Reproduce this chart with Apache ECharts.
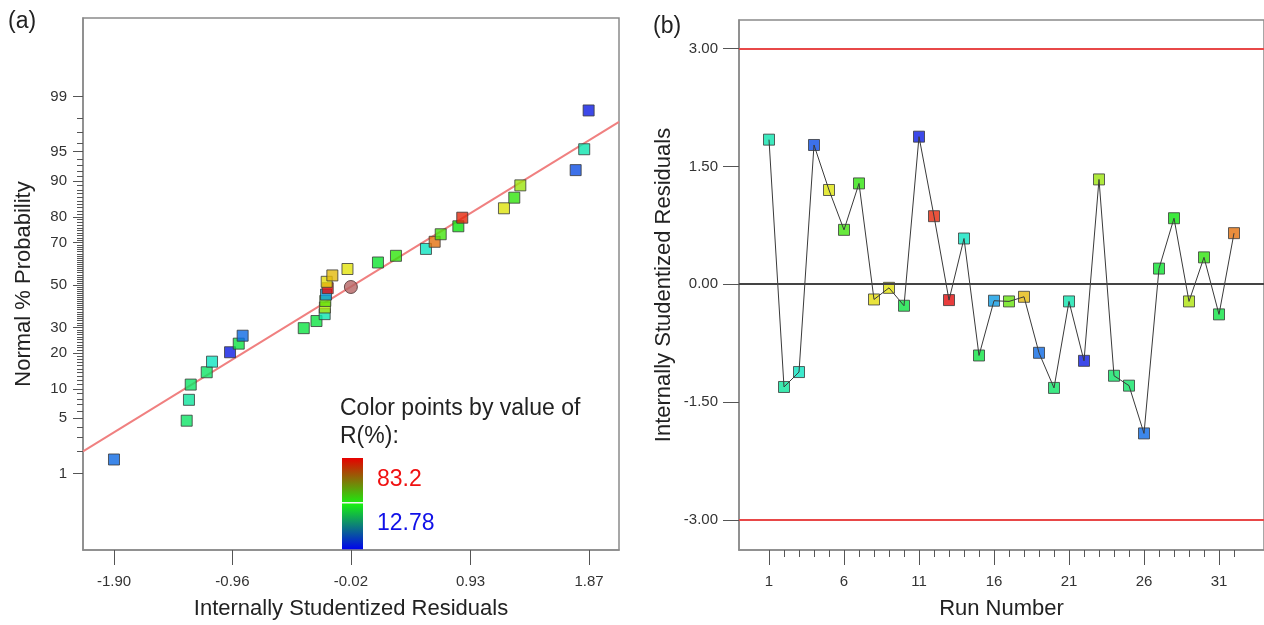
<!DOCTYPE html>
<html><head><meta charset="utf-8">
<script src="https://cdn.jsdelivr.net/npm/echarts@6/dist/echarts.min.js"></script>
<style>html,body{margin:0;padding:0;background:#fff}#c{width:1264px;height:625px}</style>
</head><body><div id="c"></div>
<script>
// ---------- data ----------
const runNumbers = [1,2,3,4,5,6,7,8,9,10,11,12,13,14,15,16,17,18,19,20,21,22,23,24,25,26,27,28,29,30,31,32];
const runResiduals = [1.84,-1.308,-1.118,1.772,1.199,0.692,1.283,-0.194,-0.046,-0.274,1.878,0.866,-0.202,0.582,-0.907,-0.21,-0.219,-0.16,-0.873,-1.32,-0.219,-0.975,1.334,-1.165,-1.291,-1.899,0.199,0.84,-0.219,0.342,-0.384,0.65];
const runR = [34.8,36.3,33.3,18.1,65.0,52.4,50.9,66.2,65.6,43.6,14.0,80.9,83.2,33.3,43.6,24.5,55.3,69.1,20.4,40.7,34.8,14.0,59.7,40.7,40.7,20.4,45.1,48.0,61.2,50.9,43.6,75.0];

const probResiduals = [-1.90,-1.323,-1.305,-1.291,-1.164,-1.122,-0.979,-0.910,-0.879,-0.394,-0.293,-0.228,-0.226,-0.223,-0.217,-0.204,-0.212,-0.167,-0.047,0.195,0.338,0.576,0.645,0.693,0.833,0.864,1.195,1.277,1.325,1.764,1.832,1.867];
const probPercent = [1.56,4.69,7.81,10.94,14.06,17.19,20.31,23.44,26.56,29.69,32.81,35.94,39.06,42.19,45.31,48.44,51.56,54.69,57.81,60.94,64.06,67.19,70.31,73.44,76.56,79.69,82.81,85.94,89.06,92.19,95.31,98.44];
const probR = [20.4,40.7,36.3,40.7,40.7,33.3,14.0,43.6,20.4,43.6,43.6,34.8,61.2,55.3,24.5,83.2,66.2,69.1,65.6,45.1,50.9,33.3,75.0,52.4,48.0,80.9,65.0,50.9,59.7,18.1,34.8,14.0];

const highlightResidual = [-0.02];
const highlightPercent = [49];
const fitLineResidual = [-2.146, 2.108];
const fitLinePercent = [2.0, 97.8];

const probTickPercents = [1,5,10,20,30,50,70,80,90,95,99];
const residTickLabels = [-1.90,-0.96,-0.02,0.93,1.87];
const runTickLabels = [1,6,11,16,21,26,31];
const residualTickLabels = [-3,-1.5,0,1.5,3];
const controlLimits = [-3, 3];
const rLegend = [12.78, 83.2];

// ---------- helpers ----------
function probit(pct){
  const p = pct/100;
  const a=[-3.969683028665376e+01,2.209460984245205e+02,-2.759285104469687e+02,1.383577518672690e+02,-3.066479806614716e+01,2.506628277459239e+00];
  const b=[-5.447609879822406e+01,1.615858368580409e+02,-1.556989798598866e+02,6.680131188771972e+01,-1.328068155288572e+01];
  const c=[-7.784894002430293e-03,-3.223964580411365e-01,-2.400758277161838e+00,-2.549732539343734e+00,4.374664141464968e+00,2.938163982698783e+00];
  const d=[7.784695709041462e-03,3.224671290700398e-01,2.445134137142996e+00,3.754408661907416e+00];
  const pl=0.02425, ph=1-pl; let q,r;
  if(p<pl){q=Math.sqrt(-2*Math.log(p));return (((((c[0]*q+c[1])*q+c[2])*q+c[3])*q+c[4])*q+c[5])/((((d[0]*q+d[1])*q+d[2])*q+d[3])*q+1);}
  if(p<=ph){q=p-0.5;r=q*q;return (((((a[0]*r+a[1])*r+a[2])*r+a[3])*r+a[4])*r+a[5])*q/(((((b[0]*r+b[1])*r+b[2])*r+b[3])*r+b[4])*r+1);}
  q=Math.sqrt(-2*Math.log(1-p));return -(((((c[0]*q+c[1])*q+c[2])*q+c[3])*q+c[4])*q+c[5])/((((d[0]*q+d[1])*q+d[2])*q+d[3])*q+1);
}
function rColor(R){
  const t=Math.max(0,Math.min(1,(R-rLegend[0])/(rLegend[1]-rLegend[0])));
  return 'hsl('+(240*(1-t)).toFixed(1)+',90%,47%)';
}
const minorPercents=[]; for(let i=1;i<=99;i++) minorPercents.push(i);
const majorZ = probTickPercents.map(probit);
const minorZ = minorPercents.map(probit);
const runMinor = runNumbers.slice();

const FONT='"Liberation Sans", Arial, sans-serif';
const axisGray='#8a8a8a';
const tickGray='#555';

const chart = echarts.init(document.getElementById('c'), null, {renderer:'canvas'});
const sqStyle = {borderColor:'#3a3a3a', borderWidth:1};

const option = {
  animation:false,
  backgroundColor:'#fff',
  textStyle:{fontFamily:FONT},
  grid:[
    {left:83, top:18, width:536, height:534, show:true, borderColor:axisGray, borderWidth:1.5, containLabel:false},
    {left:739, top:20, width:536, height:533, show:true, borderColor:axisGray, borderWidth:1.5, containLabel:false}
  ],
  xAxis:[
    {gridIndex:0, type:'value', min:-2.146, max:2.108, position:'bottom',
     axisLine:{show:true,onZero:false,lineStyle:{color:axisGray,width:1.5}},
     axisTick:{show:true,customValues:residTickLabels,length:15,lineStyle:{color:tickGray}},
     axisLabel:{customValues:residTickLabels,formatter:v=>v.toFixed(2),margin:24,fontSize:15,color:'#333',fontFamily:FONT},
     splitLine:{show:false},
     name:'Internally Studentized Residuals', nameLocation:'middle', nameGap:48,
     nameTextStyle:{fontSize:22,color:'#222',fontFamily:FONT}},
    {gridIndex:1, type:'value', min:-1, max:34, position:'bottom',
     axisLine:{show:true,onZero:false,lineStyle:{color:axisGray,width:1.5}},
     axisTick:{show:true,customValues:runTickLabels,length:15,lineStyle:{color:tickGray}},
     axisLabel:{customValues:runTickLabels,formatter:v=>String(v),margin:24,fontSize:15,color:'#333',fontFamily:FONT},
     splitLine:{show:false},
     name:'Run Number', nameLocation:'middle', nameGap:48,
     nameTextStyle:{fontSize:22,color:'#222',fontFamily:FONT}},
    {gridIndex:1, type:'value', min:-1, max:34, position:'bottom', offset:0,
     axisLine:{show:false,onZero:false},
     axisTick:{show:true,customValues:runMinor,length:7,lineStyle:{color:tickGray}},
     axisLabel:{show:false}, splitLine:{show:false}}
  ],
  yAxis:[
    {gridIndex:0, type:'value', min:-3.272, max:3.296, position:'left',
     axisLine:{show:true,onZero:false,lineStyle:{color:axisGray,width:1.5}},
     axisTick:{show:true,customValues:majorZ,length:10,lineStyle:{color:tickGray}},
     axisLabel:{customValues:majorZ,margin:16,fontSize:15,color:'#333',fontFamily:FONT,
       formatter:v=>{let best=0,bd=1e9;majorZ.forEach((z,i)=>{const d=Math.abs(z-v);if(d<bd){bd=d;best=i;}});return String(probTickPercents[best]);}},
     splitLine:{show:false},
     name:'Normal % Probability', nameLocation:'middle', nameGap:48,
     nameTextStyle:{fontSize:22,color:'#222',fontFamily:FONT}},
    {gridIndex:0, type:'value', min:-3.272, max:3.296, position:'left', offset:0,
     axisLine:{show:false,onZero:false},
     axisTick:{show:true,customValues:minorZ,length:6,lineStyle:{color:tickGray}},
     axisLabel:{show:false}, splitLine:{show:false}},
    {gridIndex:1, type:'value', min:-3.383, max:3.363, position:'left',
     axisLine:{show:true,onZero:false,lineStyle:{color:axisGray,width:1.5}},
     axisTick:{show:true,customValues:residualTickLabels,length:16,lineStyle:{color:tickGray}},
     axisLabel:{customValues:residualTickLabels,formatter:v=>v.toFixed(2),margin:21,fontSize:15,color:'#333',fontFamily:FONT},
     splitLine:{show:false},
     name:'Internally Studentized Residuals', nameLocation:'middle', nameGap:64,
     nameTextStyle:{fontSize:22,color:'#222',fontFamily:FONT}}
  ],
  series:[
    {type:'line', xAxisIndex:0, yAxisIndex:0, z:1, symbol:'none', silent:true,
     data:fitLineResidual.map((x,i)=>[x,probit(fitLinePercent[i])]),
     lineStyle:{color:'#f08080',width:2}},
    {type:'scatter', xAxisIndex:0, yAxisIndex:0, z:3, symbol:'rect', symbolSize:11,
     data:probResiduals.map((x,i)=>({value:[x,probit(probPercent[i])],itemStyle:Object.assign({color:rColor(probR[i])},sqStyle)}))},
    {type:'scatter', xAxisIndex:0, yAxisIndex:0, z:4, symbol:'circle', symbolSize:13,
     data:highlightResidual.map((x,i)=>[x,probit(highlightPercent[i])]),
     itemStyle:{color:'#b56464',borderColor:'#4a3030',borderWidth:1}},
    {type:'scatter', xAxisIndex:1, yAxisIndex:2, z:2, symbol:'rect', symbolSize:11,
     data:runNumbers.map((r,i)=>({value:[r,runResiduals[i]],itemStyle:Object.assign({color:rColor(runR[i])},sqStyle)}))},
    {type:'line', xAxisIndex:1, yAxisIndex:2, z:3, symbol:'none', silent:true,
     data:runNumbers.map((r,i)=>[r,runResiduals[i]]),
     lineStyle:{color:'#3a3a3a',width:1},
     markLine:{silent:true,symbol:'none',label:{show:false},animation:false,
       data:[
         {yAxis:controlLimits[1],lineStyle:{color:'#e84848',width:2,type:'solid'}},
         {yAxis:0,lineStyle:{color:'#444',width:2,type:'solid'}},
         {yAxis:controlLimits[0],lineStyle:{color:'#e84848',width:2,type:'solid'}}
       ]}}
  ],
  graphic:[
    {type:'text',left:8,top:10,style:{text:'(a)',font:'23px '+FONT,fill:'#222'}},
    {type:'text',left:653,top:15,style:{text:'(b)',font:'23px '+FONT,fill:'#222'}},
    {type:'text',left:340,top:397,style:{text:'Color points by value of',font:'23px '+FONT,fill:'#222'}},
    {type:'text',left:340,top:425,style:{text:'R(%):',font:'23px '+FONT,fill:'#222'}},
    {type:'rect',left:342,top:458,shape:{width:21,height:92},
     style:{fill:new echarts.graphic.LinearGradient(0,0,0,1,[
       {offset:0,color:'#e80000'},{offset:0.5,color:'#18f010'},{offset:1,color:'#0000f0'}])}},
    {type:'rect',left:342,top:502,shape:{width:21,height:1.5},style:{fill:'#f4f4f4'}},
    {type:'text',left:377,top:468,style:{text:String(rLegend[1]),font:'23px '+FONT,fill:'#f01010'}},
    {type:'text',left:377,top:512,style:{text:String(rLegend[0]),font:'23px '+FONT,fill:'#1010e8'}}
  ]
};
chart.setOption(option);
</script></body></html>
